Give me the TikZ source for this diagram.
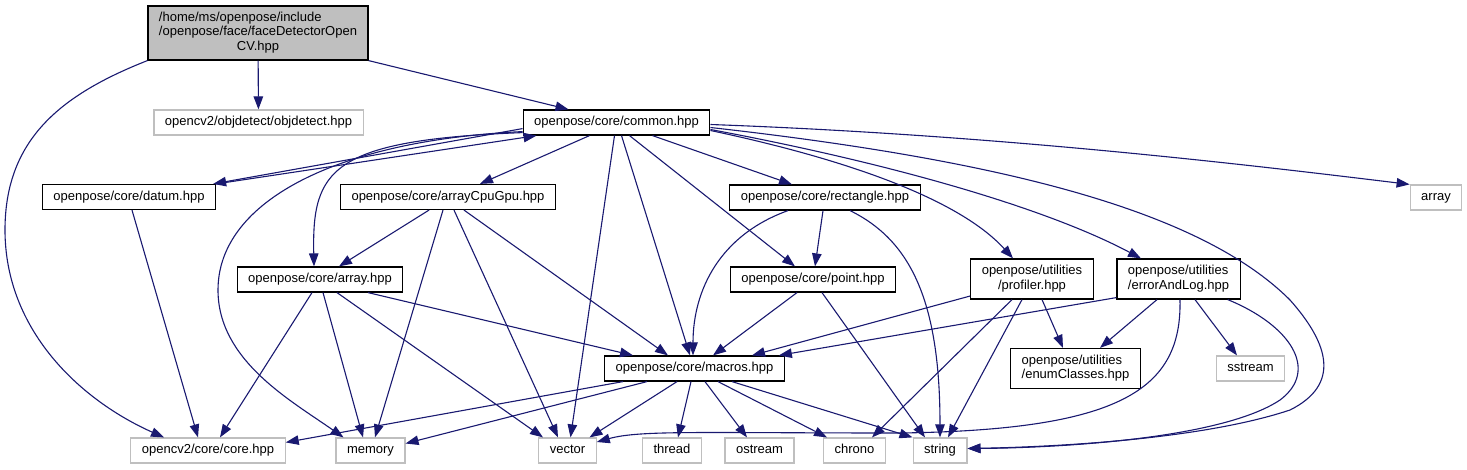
\documentclass[tikz,border=0pt]{standalone}
\usepackage{fontspec}
\setmainfont{Liberation Sans}
\usepackage{xcolor}
\usepackage{tikz}
\usetikzlibrary{arrows.meta,calc}
\definecolor{EdgeBlue}{RGB}{25,25,112}
\definecolor{FrameGray}{RGB}{191,191,191}
\definecolor{RootFill}{RGB}{191,191,191}
\newcommand{\twolines}[2]{\begin{tabular}{@{}l@{}}#1\\\multicolumn{1}{@{}c@{}}{#2}\end{tabular}}

\begin{document}
\begin{tikzpicture}[x=1pt,y=-1pt,
  filebase/.style={draw=black, line width=1.2pt, inner xsep=11pt, inner ysep=0pt, font=\fontsize{13}{14.5}\selectfont},
  file/.style={filebase, minimum height=25pt, text height=9.5pt, text depth=3pt},
  tallfile/.style={filebase, minimum height=40pt},
  sysfile/.style={file, draw=FrameGray},
  incl/.style={draw=EdgeBlue, line width=1.1pt, -{Triangle[length=13pt,width=9.5pt]}}]
\useasboundingbox (0,0) rectangle (1467,469);

% files
\node[filebase, fill=RootFill, minimum width=220pt, minimum height=54pt] (root) at (258,33) {\begin{tabular}{@{}l@{}}/home/ms/openpose/include\\/openpose/face/faceDetectorOpen\\\multicolumn{1}{@{}c@{}}{CV.hpp}\end{tabular}};
\node[sysfile] (objdetect) at (258.5,122.5) {opencv2/objdetect/objdetect.hpp};
\node[file] (common) at (616.5,122.5) {openpose/core/common.hpp};
\node[sysfile] (array) at (1436,197.5) {array};
\node[file] (datum) at (129,197) {openpose/core/datum.hpp};
\node[file] (arrayCpuGpu) at (448,197) {openpose/core/arrayCpuGpu.hpp};
\node[file] (rectangle) at (825,197.5) {openpose/core/rectangle.hpp};
\node[tallfile] (profiler) at (1032,279) {\twolines{openpose/utilities}{/profiler.hpp}};
\node[tallfile] (errorAndLog) at (1178.5,279) {\twolines{openpose/utilities}{/errorAndLog.hpp}};
\node[file] (coreArray) at (320,279.5) {openpose/core/array.hpp};
\node[file] (point) at (813,279.5) {openpose/core/point.hpp};
\node[file] (macros) at (694.5,368.5) {openpose/core/macros.hpp};
\node[tallfile] (enumClasses) at (1075.5,368.5) {\twolines{openpose/utilities}{/enumClasses.hpp}};
\node[sysfile] (sstream) at (1250.5,368.5) {sstream};
\node[sysfile] (cvCore) at (208,450.5) {opencv2/core/core.hpp};
\node[sysfile] (memory) at (370.5,450.5) {memory};
\node[sysfile] (vector) at (567.5,450.5) {vector};
\node[sysfile] (thread) at (672,450.5) {thread};
\node[sysfile] (ostream) at (759.5,450.5) {ostream};
\node[sysfile] (chrono) at (854.5,450.5) {chrono};
\node[sysfile] (string) at (940,450.5) {string};

% includes of the root file
\draw[incl] (root) -- (objdetect);
\draw[incl] (root.south east) -- ($(common.north)+(-48,0)$);
\draw[incl] (root.south west) .. controls (60,95) and (5,140) .. (5,230) .. controls (5,330) and (80,400) .. ($(cvCore.north)+(-44,0)$);

% common.hpp
\draw[incl] ($(common.south west)+(0,-7)$) -- ($(datum.north east)+(-3,0)$);
\draw[incl] (datum.north east) -- ($(common.south west)+(14,0)$);
\draw[incl] ($(common.south)+(-27,0)$) -- ($(arrayCpuGpu.north)+(32,0)$);
\draw[incl] ($(common.south west)+(0,-3)$) .. controls (330,140) and (312,170) .. ($(coreArray.north)+(-6,0)$);
\draw[incl] ($(common.south west)+(0,-4)$) .. controls (340,140) and (218,200) .. (218,290) .. controls (218,360) and (290,400) .. ($(memory.north)+(-27,0)$);
\draw[incl] ($(common.south)+(-2,0)$) -- ($(vector.north)+(3,0)$);
\draw[incl] ($(common.south)+(5,0)$) -- ($(macros.north)+(-4.5,0)$);
\draw[incl] ($(common.south)+(13,0)$) -- ($(point.north)+(-18,0)$);
\draw[incl] ($(common.south)+(36,0)$) -- ($(rectangle.north)+(-33,0)$);
\draw[incl] ($(common.east)+(0,8)$) .. controls (850,160) and (960,200) .. ($(profiler.north)+(-19,0)$);
\draw[incl] ($(common.east)+(0,7)$) .. controls (900,165) and (1050,210) .. ($(errorAndLog.north)+(-37.5,0)$);
\draw[incl] ($(common.east)+(0,2)$) .. controls (1000,135) and (1250,165) .. (array.north west);
\draw[incl] ($(common.east)+(0,5)$) .. controls (1000,160) and (1200,210) .. (1290,300) .. controls (1330,345) and (1340,385) .. (1290,410) .. controls (1200,440) and (1050,447) .. ($(string.east)+(0,-2)$);

% datum.hpp, arrayCpuGpu.hpp, array.hpp
\draw[incl] ($(datum.south)+(3,0)$) -- ($(cvCore.north)+(-10,0)$);
\draw[incl] ($(arrayCpuGpu.south)+(-19,0)$) -- ($(coreArray.north)+(19,0)$);
\draw[incl] ($(arrayCpuGpu.south)+(-5,0)$) -- ($(memory.north)+(4.5,0)$);
\draw[incl] ($(arrayCpuGpu.south)+(6,0)$) -- ($(vector.north)+(-9.5,0)$);
\draw[incl] ($(arrayCpuGpu.south)+(16,0)$) -- ($(macros.north)+(-26.5,0)$);
\draw[incl] ($(coreArray.south)+(-8,0)$) -- ($(cvCore.north)+(12,0)$);
\draw[incl] ($(coreArray.south)+(3,0)$) -- ($(memory.north)+(-7.5,0)$);
\draw[incl] ($(coreArray.south)+(17,0)$) -- ($(vector.north)+(-24.5,0)$);
\draw[incl] ($(coreArray.south)+(48,0)$) -- ($(macros.north)+(-61.5,0)$);

% rectangle.hpp, point.hpp
\draw[incl] ($(rectangle.south)+(-2,0)$) -- ($(point.north)+(2,0)$);
\draw[incl] ($(rectangle.south)+(-37,0)$) .. controls (720,235) and (693,290) .. ($(macros.north)+(-1.5,0)$);
\draw[incl] ($(rectangle.south)+(25,0)$) .. controls (910,240) and (940,300) .. (string.north);
\draw[incl] ($(point.south)+(-16,0)$) -- ($(macros.north)+(18.5,0)$);
\draw[incl] ($(point.south)+(9,0)$) -- ($(string.north)+(-15,0)$);

% profiler.hpp, errorAndLog.hpp
\draw[incl] ($(profiler.west)+(0,17)$) -- ($(macros.north)+(57.5,0)$);
\draw[incl] ($(profiler.south)+(10,0)$) -- ($(enumClasses.north)+(-12.5,0)$);
\draw[incl] ($(profiler.south)+(-20,0)$) -- ($(chrono.north)+(17.5,0)$);
\draw[incl] ($(profiler.south)+(-10,0)$) -- ($(string.north)+(8,0)$);
\draw[incl] ($(errorAndLog.south west)+(0,-2)$) -- ($(macros.north east)+(-6,0)$);
\draw[incl] ($(errorAndLog.south)+(-21.5,0)$) -- ($(enumClasses.north)+(24.5,0)$);
\draw[incl] ($(errorAndLog.south)+(16.5,0)$) -- ($(sstream.north)+(-13.5,0)$);
\draw[incl] ($(errorAndLog.south)+(1.5,0)$) .. controls (1182,390) and (1120,430) .. (900,433) .. controls (700,433) and (640,430) .. ($(vector.east)+(0,-8.5)$);
\draw[incl] ($(errorAndLog.south east)+(-13,0)$) .. controls (1290,325) and (1320,370) .. (1280,400) .. controls (1220,440) and (1050,448) .. ($(string.east)+(0,-2)$);

% macros.hpp
\draw[incl] ($(macros.south)+(-71.5,0)$) -- ($(cvCore.north east)+(0,5)$);
\draw[incl] ($(macros.south)+(-47.5,0)$) -- ($(memory.east)+(0,-7)$);
\draw[incl] ($(macros.south)+(-17.5,0)$) -- ($(vector.north)+(22,0)$);
\draw[incl] ($(macros.south)+(-3.5,0)$) -- ($(thread.north)+(6,0)$);
\draw[incl] ($(macros.south)+(10.5,0)$) -- ($(ostream.north)+(-12.5,0)$);
\draw[incl] ($(macros.south)+(23.5,0)$) -- ($(chrono.north)+(-27.5,0)$);
\draw[incl] ($(macros.south)+(37.5,0)$) -- (string.north west);
\end{tikzpicture}
\end{document}
